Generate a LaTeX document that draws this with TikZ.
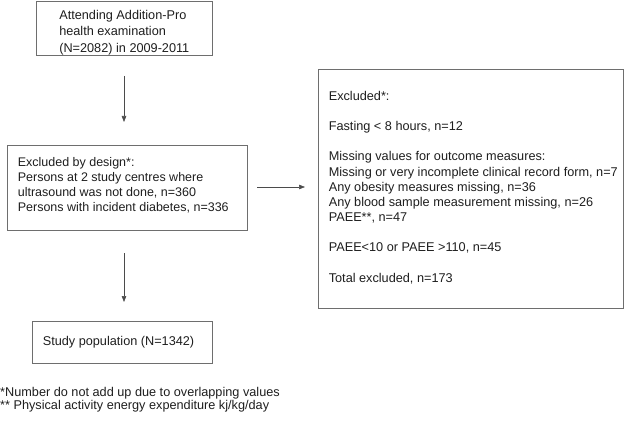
\documentclass[tikz,border=0pt]{standalone}
\usepackage{fontspec}
\setmainfont{Liberation Sans}
\usetikzlibrary{arrows.meta,calc}
\definecolor{edge}{HTML}{6E6E6E}
\definecolor{ink}{HTML}{1E1E1E}
\begin{document}
\begin{tikzpicture}[x=1pt,y=-1pt,
  box/.style={draw=edge, line width=0.8pt, rectangle, inner sep=0pt},
  txt/.style={text=ink, align=left, anchor=west, inner sep=0pt,
    font=\fontsize{12.7}{15.2}\selectfont},
  flow/.style={draw=ink!80, line width=0.6pt, -{Triangle[length=6pt,width=4.5pt]}},
  note/.style={text=ink, align=left, font=\fontsize{12.7}{13.4}\selectfont, inner sep=0pt, anchor=north west}]
\useasboundingbox (0,0) rectangle (625,444);
\node[box, minimum width=176pt, minimum height=54pt] (b1) at (124,28) {};
\node[box, minimum width=240pt, minimum height=85pt] (b2) at (127,187.5) {};
\node[box, minimum width=305pt, minimum height=239pt] (b3) at (470.5,188.5) {};
\node[box, minimum width=180pt, minimum height=42pt] (b4) at (122,342) {};
\node[txt, font=\fontsize{12.7}{16.5}\selectfont] (t1) at ($(b1.west)+(23.5,4.5)$)
  {Attending Addition-Pro\\health examination\\(N=2082) in 2009-2011};
\node[txt, font=\fontsize{12.5}{15}\selectfont] (t2) at ($(b2.west)+(11,-2)$)
  {Excluded by design*:\\Persons at 2 study centres where\\ultrasound was not done, n=360\\Persons with incident diabetes, n=336};
\node[txt] (t3) at ($(b3.west)+(11,-1)$)
  {Excluded*:\\[15pt]Fasting < 8 hours, n=12\\[15pt]Missing values for outcome measures:\\Missing or very incomplete clinical record form, n=7\\Any obesity measures missing, n=36\\Any blood sample measurement missing, n=26\\PAEE**, n=47\\[15pt]PAEE<10 or PAEE >110, n=45\\[15pt]Total excluded, n=173};
\node[txt] (t4) at ($(b4.west)+(11,0)$) {Study population (N=1342)};
\coordinate (a1s) at (124,76);
\coordinate (a1e) at (124,122);
\coordinate (a2s) at (124,253);
\coordinate (a2e) at (124,302);
\coordinate (a3s) at (257,187);
\coordinate (a3e) at (305,187);
\draw[flow] (a1s) -- (a1e);
\draw[flow] (a2s) -- (a2e);
\draw[flow] (a3s) -- (a3e);
\node[note] (fn) at (0,387) {*Number do not add up due to overlapping values\\** Physical activity energy expenditure kj/kg/day};
\end{tikzpicture}
\end{document}
